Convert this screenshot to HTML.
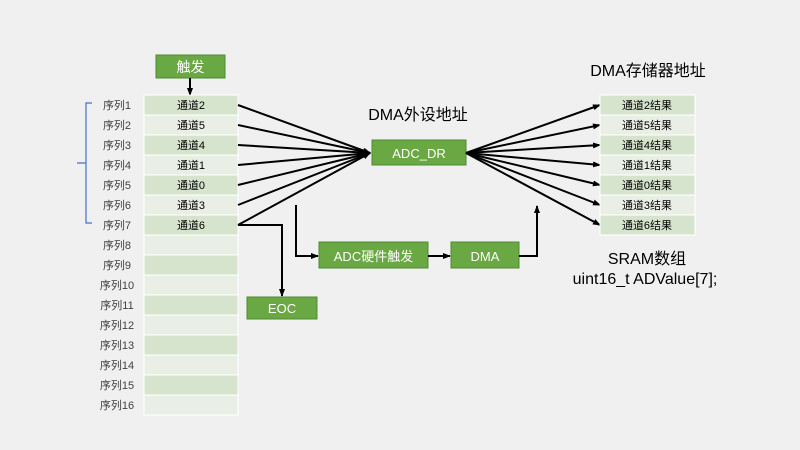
<!DOCTYPE html>
<html><head><meta charset="utf-8"><style>
html,body{margin:0;padding:0;background:#f0f0f0;}
svg{display:block;}
text{font-family:"Liberation Sans","Noto Sans CJK SC",sans-serif;}
</style></head><body>
<svg width="800" height="450" viewBox="0 0 800 450" xmlns="http://www.w3.org/2000/svg">
<defs>
<marker id="a" markerWidth="8" markerHeight="8" refX="7" refY="4" orient="auto" markerUnits="userSpaceOnUse">
<path d="M0,1 L8,4 L0,7 Z" fill="#000"/></marker>
</defs>
<rect width="800" height="450" fill="#f0f0f0"/>
<rect x="156" y="55" width="69" height="23" fill="#6aa843" stroke="#4e8a30"/>
<text x="190.5" y="72" font-size="14" fill="#fff" text-anchor="middle">触发</text>
<line x1="190" y1="78" x2="190" y2="95" stroke="#000" stroke-width="2" marker-end="url(#a)"/>
<g stroke="#fff" stroke-width="1">
<rect x="144" y="95" width="94" height="20" fill="#d7e4cd"/>
<rect x="144" y="115" width="94" height="20" fill="#e9efe5"/>
<rect x="144" y="135" width="94" height="20" fill="#d7e4cd"/>
<rect x="144" y="155" width="94" height="20" fill="#e9efe5"/>
<rect x="144" y="175" width="94" height="20" fill="#d7e4cd"/>
<rect x="144" y="195" width="94" height="20" fill="#e9efe5"/>
<rect x="144" y="215" width="94" height="20" fill="#d7e4cd"/>
<rect x="144" y="235" width="94" height="20" fill="#e9efe5"/>
<rect x="144" y="255" width="94" height="20" fill="#d7e4cd"/>
<rect x="144" y="275" width="94" height="20" fill="#e9efe5"/>
<rect x="144" y="295" width="94" height="20" fill="#d7e4cd"/>
<rect x="144" y="315" width="94" height="20" fill="#e9efe5"/>
<rect x="144" y="335" width="94" height="20" fill="#d7e4cd"/>
<rect x="144" y="355" width="94" height="20" fill="#e9efe5"/>
<rect x="144" y="375" width="94" height="20" fill="#d7e4cd"/>
<rect x="144" y="395" width="94" height="20" fill="#e9efe5"/>
</g>
<g font-size="11" fill="#000" text-anchor="middle">
<text x="191" y="109">通道2</text><text x="191" y="129">通道5</text><text x="191" y="149">通道4</text>
<text x="191" y="169">通道1</text><text x="191" y="189">通道0</text><text x="191" y="209">通道3</text>
<text x="191" y="229">通道6</text>
</g>
<g font-size="11" fill="#404040" text-anchor="middle">
<text x="117" y="109">序列1</text><text x="117" y="129">序列2</text><text x="117" y="149">序列3</text>
<text x="117" y="169">序列4</text><text x="117" y="189">序列5</text><text x="117" y="209">序列6</text>
<text x="117" y="229">序列7</text><text x="117" y="249">序列8</text><text x="117" y="269">序列9</text>
<text x="117" y="289">序列10</text><text x="117" y="309">序列11</text><text x="117" y="329">序列12</text>
<text x="117" y="349">序列13</text><text x="117" y="369">序列14</text><text x="117" y="389">序列15</text>
<text x="117" y="409">序列16</text>
</g>
<path d="M92,103 H86 V223 H92 M86,163 H77" fill="none" stroke="#4472c4" stroke-width="1.2"/>
<g stroke="#000" stroke-width="2">
<line x1="238" y1="105" x2="370" y2="153" marker-end="url(#a)"/>
<line x1="238" y1="125" x2="370" y2="153" marker-end="url(#a)"/>
<line x1="238" y1="145" x2="370" y2="153" marker-end="url(#a)"/>
<line x1="238" y1="165" x2="370" y2="153" marker-end="url(#a)"/>
<line x1="238" y1="185" x2="370" y2="153" marker-end="url(#a)"/>
<line x1="238" y1="205" x2="370" y2="153" marker-end="url(#a)"/>
<line x1="238" y1="225" x2="370" y2="153" marker-end="url(#a)"/>
</g>
<text x="418" y="120" font-size="16" fill="#000" text-anchor="middle">DMA外设地址</text>
<rect x="372" y="140" width="94" height="25" fill="#6aa843" stroke="#4e8a30"/>
<text x="419" y="158" font-size="13" fill="#fff" text-anchor="middle">ADC_DR</text>
<g stroke="#000" stroke-width="2">
<line x1="466" y1="153" x2="600" y2="105" marker-end="url(#a)"/>
<line x1="466" y1="153" x2="600" y2="125" marker-end="url(#a)"/>
<line x1="466" y1="153" x2="600" y2="145" marker-end="url(#a)"/>
<line x1="466" y1="153" x2="600" y2="165" marker-end="url(#a)"/>
<line x1="466" y1="153" x2="600" y2="185" marker-end="url(#a)"/>
<line x1="466" y1="153" x2="600" y2="205" marker-end="url(#a)"/>
<line x1="466" y1="153" x2="600" y2="225" marker-end="url(#a)"/>
</g>
<text x="648" y="76" font-size="16" fill="#000" text-anchor="middle">DMA存储器地址</text>
<g stroke="#fff" stroke-width="1">
<rect x="600" y="95" width="95" height="20" fill="#d7e4cd"/>
<rect x="600" y="115" width="95" height="20" fill="#e9efe5"/>
<rect x="600" y="135" width="95" height="20" fill="#d7e4cd"/>
<rect x="600" y="155" width="95" height="20" fill="#e9efe5"/>
<rect x="600" y="175" width="95" height="20" fill="#d7e4cd"/>
<rect x="600" y="195" width="95" height="20" fill="#e9efe5"/>
<rect x="600" y="215" width="95" height="20" fill="#d7e4cd"/>
</g>
<g font-size="11" fill="#000" text-anchor="middle">
<text x="647" y="109">通道2结果</text><text x="647" y="129">通道5结果</text><text x="647" y="149">通道4结果</text>
<text x="647" y="169">通道1结果</text><text x="647" y="189">通道0结果</text><text x="647" y="209">通道3结果</text>
<text x="647" y="229">通道6结果</text>
</g>
<text x="647" y="264" font-size="16" fill="#000" text-anchor="middle">SRAM数组</text>
<text x="645" y="284" font-size="16" fill="#000" text-anchor="middle">uint16_t ADValue[7];</text>
<path d="M238,225 H282 V296" fill="none" stroke="#000" stroke-width="2" marker-end="url(#a)"/>
<rect x="247" y="297" width="70" height="22" fill="#6aa843" stroke="#4e8a30"/>
<text x="282" y="313" font-size="13" fill="#fff" text-anchor="middle">EOC</text>
<path d="M296,205 V256 H318" fill="none" stroke="#000" stroke-width="2" marker-end="url(#a)"/>
<rect x="319" y="242" width="109" height="26" fill="#6aa843" stroke="#4e8a30"/>
<text x="373.5" y="261" font-size="13" fill="#fff" text-anchor="middle">ADC硬件触发</text>
<line x1="428" y1="256" x2="450" y2="256" stroke="#000" stroke-width="2" marker-end="url(#a)"/>
<rect x="451" y="242" width="68" height="26" fill="#6aa843" stroke="#4e8a30"/>
<text x="485" y="261" font-size="13" fill="#fff" text-anchor="middle">DMA</text>
<path d="M519,256 H537 V206" fill="none" stroke="#000" stroke-width="2" marker-end="url(#a)"/>
</svg>
</body></html>
